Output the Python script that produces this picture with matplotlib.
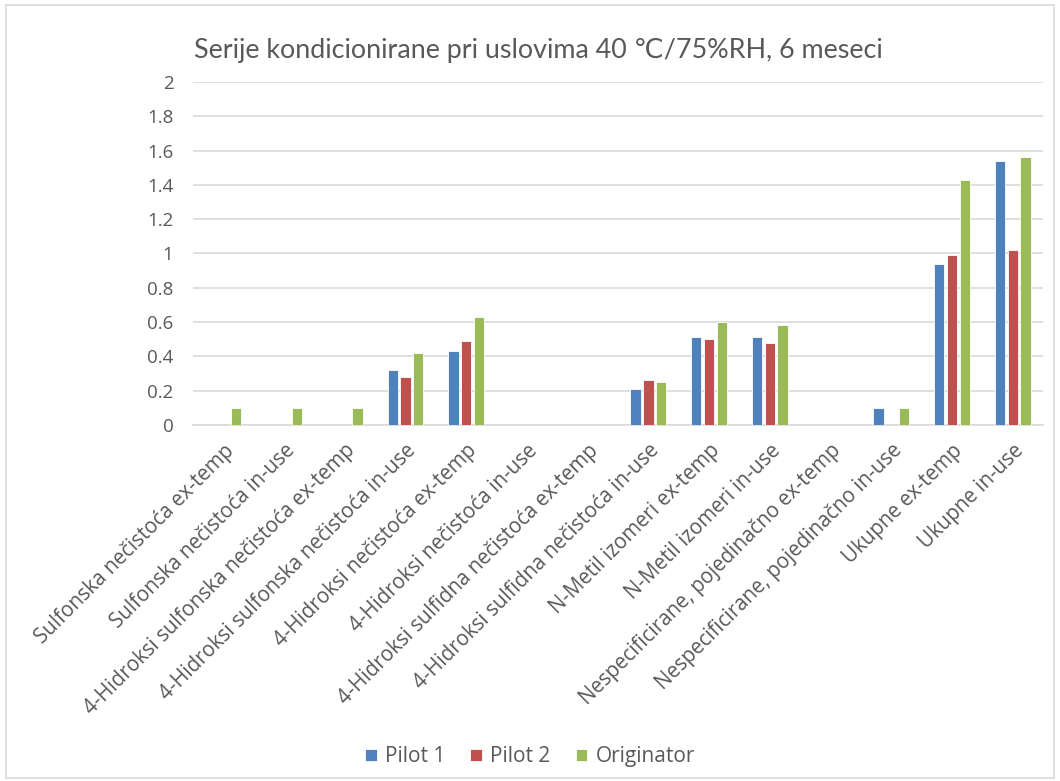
import numpy as np
import matplotlib.pyplot as plt
from matplotlib.patches import Rectangle

# ---------------------- data ----------------------
categories = [
    "Sulfonska nečistoća ex-temp",
    "Sulfonska nečistoća in-use",
    "4-Hidroksi sulfonska nečistoća ex-temp",
    "4-Hidroksi sulfonska nečistoća in-use",
    "4-Hidroksi nečistoća ex-temp",
    "4-Hidroksi nečistoća in-use",
    "4-Hidroksi sulfidna nečistoća ex-temp",
    "4-Hidroksi sulfidna nečistoća in-use",
    "N-Metil izomeri ex-temp",
    "N-Metil izomeri in-use",
    "Nespecificirane, pojedinačno ex-temp",
    "Nespecificirane, pojedinačno in-use",
    "Ukupne ex-temp",
    "Ukupne in-use",
]
pilot1 = [0, 0, 0, 0.32, 0.43, 0, 0, 0.21, 0.51, 0.51, 0, 0.10, 0.94, 1.54]
pilot2 = [0, 0, 0, 0.28, 0.49, 0, 0, 0.26, 0.50, 0.48, 0, 0, 0.99, 1.02]
originator = [0.10, 0.10, 0.10, 0.42, 0.63, 0, 0, 0.25, 0.60, 0.58, 0, 0.10, 1.43, 1.56]
series_names = ["Pilot 1", "Pilot 2", "Originator"]
yticks = [0, 0.2, 0.4, 0.6, 0.8, 1, 1.2, 1.4, 1.6, 1.8, 2]
title = "Serije kondicionirane pri uslovima 40 \u2103/75%RH, 6 meseci"

colors = ["#4F81BD", "#C0504D", "#9BBB59"]
text_color = "#595959"

plt.rcParams['font.family'] = ['Open Sans', 'DejaVu Sans']

fig = plt.figure(figsize=(10.6, 7.81), dpi=100)
ax = fig.add_axes([0.182, 0.456, 0.802, 0.439])

x = np.arange(len(categories))
width = 0.17
step = 0.21
for i, (vals, name) in enumerate(zip([pilot1, pilot2, originator], series_names)):
    ax.bar(x + (i - 1) * step, vals, width, color=colors[i], label=name,
           edgecolor="white", linewidth=0.6, zorder=3)

ax.set_xlim(-0.5, len(categories) - 0.5)
ax.set_ylim(0, 2)
ax.set_yticks(yticks)
ax.set_yticklabels([f"{t:g}" for t in yticks], fontsize=13.5, color=text_color)
ax.yaxis.grid(True, color="#D9D9D9", linewidth=1.2, zorder=0)
for s in ["top", "right", "left"]:
    ax.spines[s].set_visible(False)
ax.spines["bottom"].set_color("#D9D9D9")
ax.spines["bottom"].set_linewidth(1.2)
ax.tick_params(axis="both", length=0)
ax.tick_params(axis="y", pad=14)

ax.set_xticks(x)
ax.set_xticklabels(categories, rotation=45, ha="right", rotation_mode="anchor",
                   fontsize=14.8, color=text_color)
ax.tick_params(axis="x", pad=11)

fig.text(0.183, 0.935, title, fontsize=19.4, color=text_color,
         family=['Lato', 'DejaVu Sans'], va="center")

leg = fig.legend(loc="center", bbox_to_anchor=(0.5, 0.031), ncol=3, frameon=False,
                 fontsize=15, handlelength=0.55, handleheight=0.55, columnspacing=1.2,
                 handletextpad=0.4)
for t in leg.get_texts():
    t.set_color(text_color)

fig.patches.append(Rectangle((0.006, 0.004), 0.988, 0.99, transform=fig.transFigure,
                             fill=False, edgecolor="#D9D9D9", linewidth=1.2))

fig.savefig("out.png", dpi=100)
